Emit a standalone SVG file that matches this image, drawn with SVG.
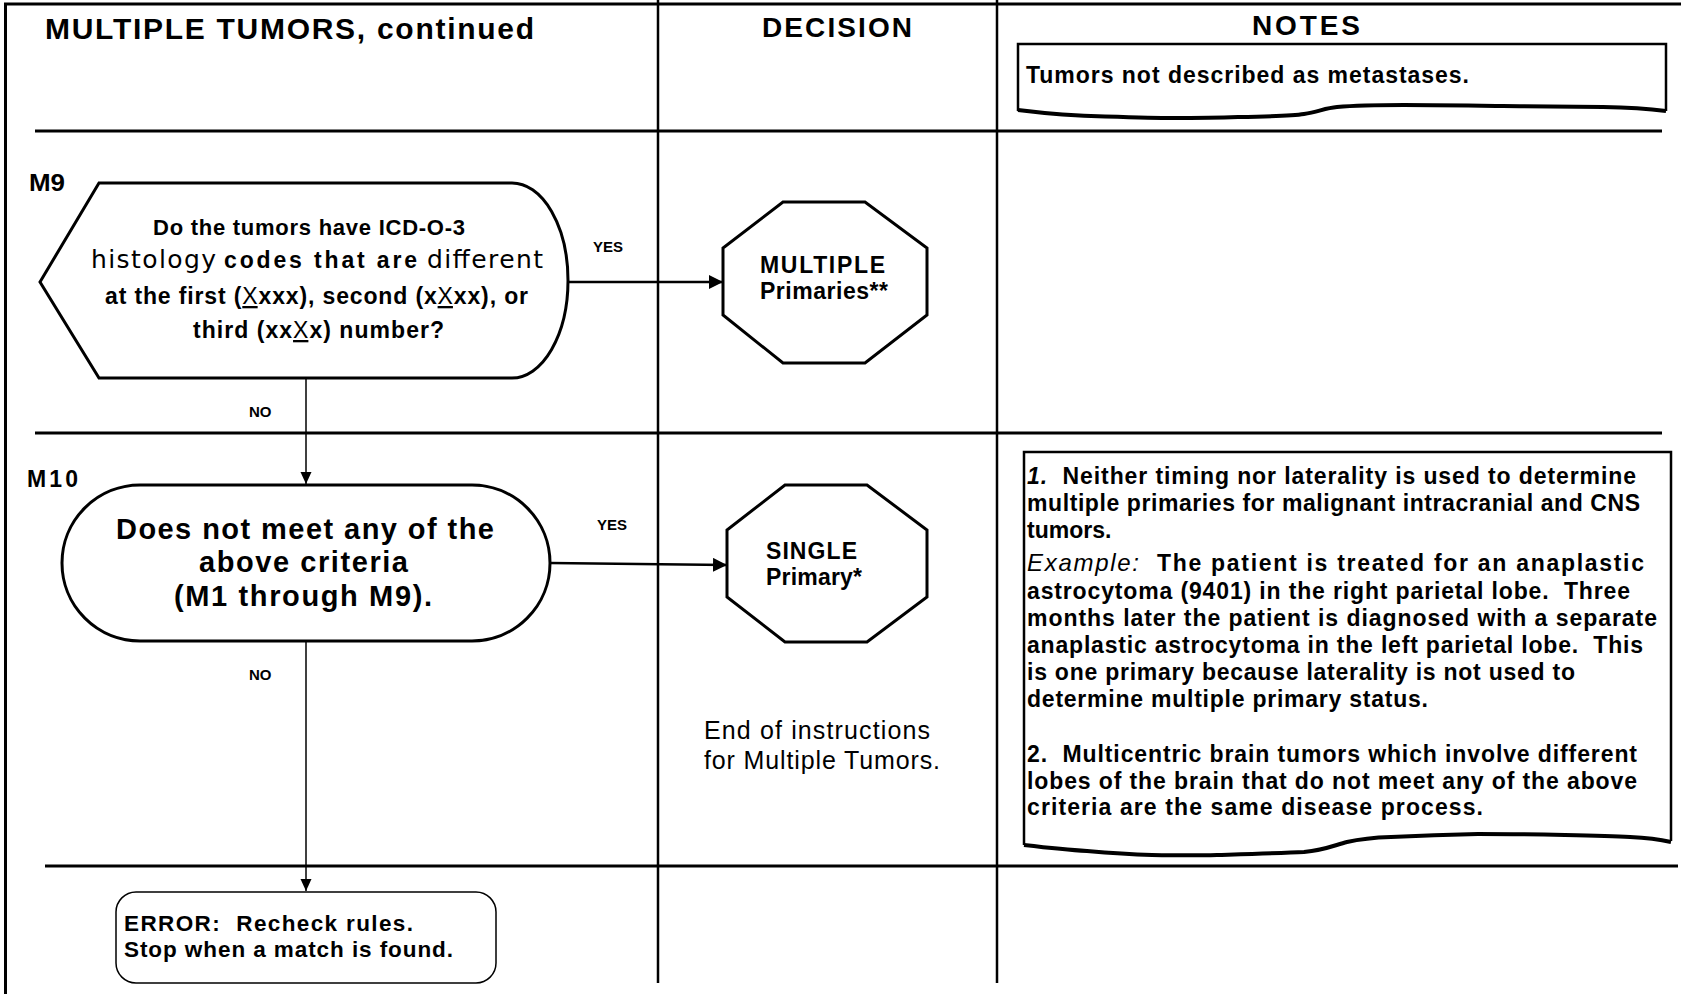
<svg xmlns="http://www.w3.org/2000/svg" width="1681" height="994" viewBox="0 0 1681 994">
<style>
text{font-family:"Liberation Sans",Arial,sans-serif;fill:#000}
.b{font-weight:bold}
.frame{stroke:#000;fill:none;stroke-width:3}
.vline{stroke:#000;fill:none;stroke-width:2.5}
.shape{fill:#fff;stroke:#000;stroke-width:3}
.thin{fill:#fff;stroke:#000;stroke-width:1.5}
.note{fill:#fff;stroke:#000;stroke-width:2.5}
.wave{fill:none;stroke:#000;stroke-width:4;stroke-linejoin:round}
.yes{stroke:#000;stroke-width:2.5;fill:none}
.no{stroke:#000;stroke-width:1.5;fill:none}
.lbl{font-size:15px;font-weight:bold}
.h{font-size:28px;font-weight:bold}
.nt{font-size:23px;font-weight:bold}
.wide{font-family:"DejaVu Sans",sans-serif;font-weight:normal;font-size:25px}
.ul{text-decoration:underline;font-weight:normal}
</style>
<defs>
<marker id="arr" markerUnits="userSpaceOnUse" markerWidth="14" markerHeight="14" viewBox="0 0 12 12" refX="12" refY="6" orient="auto">
<path d="M0,0 L12,6 L0,12 Z" fill="#000"/>
</marker>
<marker id="arr2" markerUnits="userSpaceOnUse" markerWidth="12" markerHeight="12" viewBox="0 0 12 12" refX="12" refY="6" orient="auto">
<path d="M0,0.5 L12,6 L0,11.5 Z" fill="#000"/>
</marker>
</defs>

<g id="grid">
<path class="frame" d="M5.5,994 L5.5,4 L1681,4"/>
<line class="vline" x1="658" y1="0" x2="658" y2="983"/>
<line class="vline" x1="997" y1="0" x2="997" y2="983"/>
<line class="frame" x1="35" y1="131" x2="1662" y2="131"/>
<line class="frame" x1="35" y1="433" x2="1662" y2="433"/>
<line class="frame" x1="45" y1="866" x2="1678" y2="866"/>
</g>

<g id="headers">
<text class="b" x="45" y="39" font-size="30" textLength="489" lengthAdjust="spacing">MULTIPLE TUMORS, continued</text>
<text class="h" x="762" y="37" textLength="150" lengthAdjust="spacing">DECISION</text>
<text class="h" x="1252" y="35" textLength="108" lengthAdjust="spacing">NOTES</text>
</g>

<g id="note1">
<path class="note" d="M1018,111 L1018,44 L1666,44 L1666,111"/>
<path class="wave" d="M1018,110 C1050,114 1080,116 1105,116.5 C1140,117.5 1160,118 1171,118 C1200,118 1225,117.5 1238,117 C1270,116.5 1295,115.5 1304,114 C1318,112 1325,108 1337,107 C1360,105 1385,105 1404,105 C1440,105 1470,105.5 1503,106 C1540,106.5 1580,107 1603,107 C1630,107.5 1650,109 1666,111"/>
<text class="nt" x="1026" y="83" textLength="443" lengthAdjust="spacing">Tumors not described as metastases.</text>
</g>

<g id="m9">
<text class="b" x="29" y="191" font-size="23" textLength="36" lengthAdjust="spacingAndGlyphs">M9</text>
<path class="shape" d="M40,282 L99,183 L512,183 A56,97.5 0 0 1 512,378 L99,378 Z"/>
<text class="b" x="153" y="235" font-size="22" textLength="312" lengthAdjust="spacing">Do the tumors have ICD-O-3</text>
<text class="wide" x="91" y="268" textLength="125" lengthAdjust="spacing">histology</text>
<text class="b" x="224" y="268" font-size="23" textLength="193" lengthAdjust="spacing">codes that are</text>
<text class="wide" x="427" y="268" textLength="116" lengthAdjust="spacing">different</text>
<text class="b" x="105" y="304" font-size="23" textLength="423" lengthAdjust="spacing">at the first (<tspan class="ul">X</tspan>xxx), second (x<tspan class="ul">X</tspan>xx), or</text>
<text class="b" x="193" y="338" font-size="23" textLength="251" lengthAdjust="spacing">third (xx<tspan class="ul">X</tspan>x) number?</text>
</g>

<g id="multiple">
<polygon class="shape" points="783,202 865,202 927,248 927,315 865,363 783,363 723,315 723,248"/>
<text class="b" x="760" y="273" font-size="23" textLength="125" lengthAdjust="spacing">MULTIPLE</text>
<text class="b" x="760" y="299" font-size="23" textLength="128" lengthAdjust="spacing">Primaries**</text>
</g>

<g id="m10">
<text class="b" x="27" y="487" font-size="23" textLength="51" lengthAdjust="spacing">M10</text>
<rect class="shape" x="62" y="485" width="488" height="156" rx="78" ry="78"/>
<text class="b" x="116" y="539" font-size="29" textLength="378" lengthAdjust="spacing">Does not meet any of the</text>
<text class="b" x="199" y="572" font-size="29" textLength="209" lengthAdjust="spacing">above criteria</text>
<text class="b" x="174" y="606" font-size="29" textLength="258" lengthAdjust="spacing">(M1 through M9).</text>
</g>

<g id="single">
<polygon class="shape" points="785,485 867,485 927,530 927,597 867,642 785,642 727,597 727,530"/>
<text class="b" x="766" y="559" font-size="23" textLength="91" lengthAdjust="spacing">SINGLE</text>
<text class="b" x="766" y="585" font-size="23" textLength="96" lengthAdjust="spacing">Primary*</text>
</g>

<g id="end-text">
<text x="704" y="739" font-size="25" textLength="226" lengthAdjust="spacing">End of instructions</text>
<text x="704" y="769" font-size="25" textLength="236" lengthAdjust="spacing">for Multiple Tumors.</text>
</g>

<g id="note2">
<path class="note" d="M1024,845 L1024,452 L1671,452 L1671,841"/>
<path class="wave" d="M1024,845 C1050,848 1070,850 1087,851 C1110,853 1135,854.5 1152,855 C1180,855.5 1200,855.5 1217,855 C1250,854 1285,853 1304,852 C1325,850 1335,845 1347,842 C1360,839 1375,837.5 1391,837 C1420,835.5 1450,834.5 1478,834 C1510,834 1540,834.5 1565,835 C1595,835.5 1615,836 1630,837 C1650,838 1662,840 1671,842"/>
<text class="nt" x="1027" y="484" textLength="609" lengthAdjust="spacing"><tspan font-style="italic">1.</tspan>&#160; Neither timing nor laterality is used to determine</text>
<text class="nt" x="1027" y="511" textLength="613" lengthAdjust="spacing">multiple primaries for malignant intracranial and CNS</text>
<text class="nt" x="1027" y="538">tumors.</text>
<text class="nt" x="1027" y="571" textLength="617" lengthAdjust="spacing"><tspan font-style="italic" font-weight="normal" font-size="24">Example:</tspan>&#160; The patient is treated for an anaplastic</text>
<text class="nt" x="1027" y="599" textLength="603" lengthAdjust="spacing">astrocytoma (9401) in the right parietal lobe.&#160; Three</text>
<text class="nt" x="1027" y="626" textLength="630" lengthAdjust="spacing">months later the patient is diagnosed with a separate</text>
<text class="nt" x="1027" y="653" textLength="616" lengthAdjust="spacing">anaplastic astrocytoma in the left parietal lobe.&#160; This</text>
<text class="nt" x="1027" y="680" textLength="548" lengthAdjust="spacing">is one primary because laterality is not used to</text>
<text class="nt" x="1027" y="707" textLength="401" lengthAdjust="spacing">determine multiple primary status.</text>
<text class="nt" x="1027" y="762" textLength="610" lengthAdjust="spacing">2.&#160; Multicentric brain tumors which involve different</text>
<text class="nt" x="1027" y="789" textLength="610" lengthAdjust="spacing">lobes of the brain that do not meet any of the above</text>
<text class="nt" x="1027" y="815" textLength="456" lengthAdjust="spacing">criteria are the same disease process.</text>
</g>

<g id="error">
<rect class="thin" x="116" y="892" width="380" height="91" rx="20" ry="20"/>
<text class="b" x="124" y="931" font-size="22.5" textLength="289" lengthAdjust="spacing">ERROR:&#160; Recheck rules.</text>
<text class="b" x="124" y="957" font-size="22.5" textLength="329" lengthAdjust="spacing">Stop when a match is found.</text>
</g>

<g id="connectors">
<line class="yes" x1="568" y1="282" x2="723" y2="282" marker-end="url(#arr)"/>
<line class="no" x1="306" y1="378" x2="306" y2="484" marker-end="url(#arr2)"/>
<line class="yes" x1="550" y1="563" x2="727" y2="565" marker-end="url(#arr)"/>
<line class="no" x1="306" y1="641" x2="306" y2="891" marker-end="url(#arr2)"/>
<text class="lbl" x="593" y="252">YES</text>
<text class="lbl" x="249" y="417">NO</text>
<text class="lbl" x="597" y="530">YES</text>
<text class="lbl" x="249" y="680">NO</text>
</g>
</svg>
